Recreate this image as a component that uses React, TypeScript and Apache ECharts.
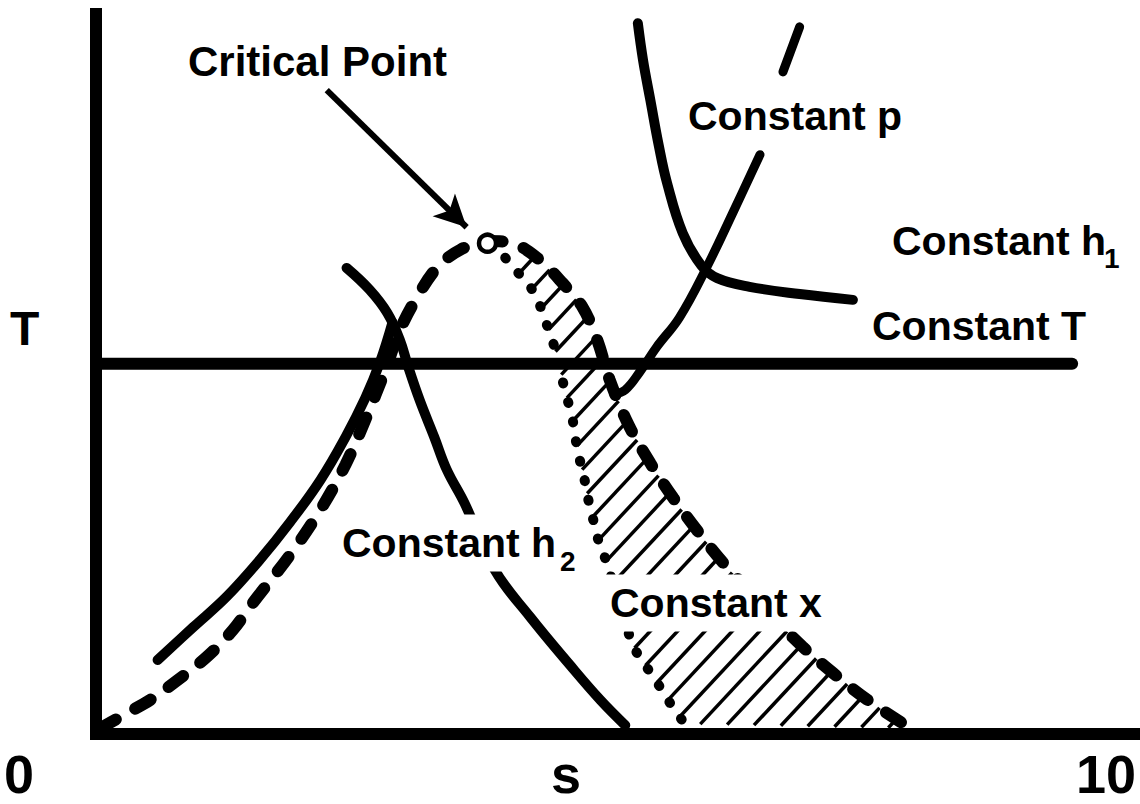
import React, { useEffect, useRef } from "react";
import * as echarts from "echarts";

// Saturation dome (dashed), left and right branches [s, T]
const domeLeft: number[][] = [
  [0.04, 0.08], [0.30, 0.29], [0.52, 0.47], [0.78, 0.74], [1.06, 1.06], [1.31, 1.43],
  [1.50, 1.80], [1.86, 2.47], [2.15, 3.09], [2.39, 3.71], [2.58, 4.33], [2.77, 5.01],
  [2.91, 5.56], [3.06, 5.98], [3.27, 6.43], [3.49, 6.67], [3.75, 6.79],
];
const domeRight: number[][] = [
  [3.75, 6.79], [3.99, 6.76], [4.25, 6.53], [4.47, 6.21], [4.66, 5.88], [4.80, 5.43],
  [4.92, 4.88], [5.10, 4.26], [5.31, 3.73], [5.53, 3.25], [5.76, 2.80], [6.00, 2.37],
  [6.26, 1.96], [6.51, 1.57], [6.77, 1.20], [7.06, 0.84], [7.39, 0.47], [7.80, 0.08],
];
// Constant quality line (dotted)
const qualityX: number[][] = [
  [3.92, 6.56], [4.04, 6.36], [4.16, 6.16], [4.25, 5.91], [4.31, 5.67], [4.37, 5.43],
  [4.43, 5.12], [4.49, 4.74], [4.56, 4.37], [4.59, 4.09], [4.63, 3.80], [4.68, 3.50],
  [4.72, 3.20], [4.77, 2.91], [4.82, 2.63], [4.89, 2.37], [4.97, 1.98], [5.06, 1.60],
  [5.14, 1.23], [5.24, 0.99], [5.34, 0.79], [5.43, 0.58], [5.53, 0.36], [5.64, 0.14],
];
// Constant pressure line pieces
const pressureLeft: number[][] = [
  [0.59, 1.02], [0.93, 1.47], [1.25, 1.89], [1.57, 2.40], [1.86, 2.92], [2.15, 3.50],
  [2.39, 4.09], [2.58, 4.63], [2.72, 5.12], [2.84, 5.67],
];
const pressureRight: number[][] = [
  [4.96, 4.68], [5.07, 4.74], [5.21, 4.99], [5.37, 5.33], [5.59, 5.74], [5.85, 6.43],
  [6.10, 7.18], [6.36, 7.98],
];
const pressureTop: number[][] = [[6.58, 9.12], [6.74, 9.74]];
// Constant enthalpy lines
const enthalpy1: number[][] = [
  [5.19, 9.79], [5.24, 9.28], [5.31, 8.73], [5.39, 8.11], [5.47, 7.59], [5.62, 6.90],
  [5.80, 6.45], [5.95, 6.28], [6.26, 6.16], [6.74, 6.06], [7.25, 5.98],
];
const enthalpy2: number[][] = [
  [2.40, 6.42], [2.62, 6.12], [2.79, 5.80], [2.91, 5.43], [2.99, 5.06], [3.10, 4.60],
  [3.24, 4.09], [3.36, 3.64], [3.53, 3.18], [3.82, 2.26], [4.16, 1.61], [4.54, 0.95],
  [4.83, 0.47], [5.07, 0.12],
];
// Constant temperature line
const temperatureLine: number[][] = [[0, 5.1], [9.35, 5.1]];
// Critical point and its pointer arrow
const criticalPoint: number[] = [3.75, 6.76];
const arrowFrom: number[] = [2.21, 8.87];
const arrowTo: number[] = [3.55, 6.98];

const LABEL_FONT = "bold 41px 'Liberation Sans', Arial, sans-serif";
const SUB_FONT = "bold 28px 'Liberation Sans', Arial, sans-serif";
const AXIS_FONT = "bold 54px 'Liberation Sans', Arial, sans-serif";

const solid = (data: number[][], width = 10) => ({
  type: "line",
  data,
  smooth: 0.4,
  symbol: "none",
  silent: true,
  lineStyle: { color: "#000", width, cap: "round", join: "round" },
  z: 3,
});

export default function App() {
  const ref = useRef<HTMLDivElement>(null);
  useEffect(() => {
    if (!ref.current) return;
    const chart = echarts.init(ref.current, undefined, { renderer: "svg" });

    const hatchBoundary = [...qualityX, ...domeRight.slice(1).reverse()];

    const renderHatch = (_params: any, api: any) => {
      const pts = hatchBoundary.map((p) => api.coord(p));
      const ang = (47 * Math.PI) / 180;
      const dx = Math.cos(ang), dy = -Math.sin(ang);
      const nx = -dy, ny = dx;
      const proj = pts.map((p: number[]) => p[0] * nx + p[1] * ny);
      const spacing = 20;
      const cmin = Math.min(...proj), cmax = Math.max(...proj);
      const children: any[] = [];
      const n = pts.length;
      for (let c = Math.ceil(cmin / spacing) * spacing + 6; c <= cmax; c += spacing) {
        const hits: number[][] = [];
        for (let i = 0; i < n; i++) {
          const j = (i + 1) % n;
          const pa = proj[i] - c, pb = proj[j] - c;
          if ((pa < 0) !== (pb < 0)) {
            const t = pa / (pa - pb);
            hits.push([
              pts[i][0] + t * (pts[j][0] - pts[i][0]),
              pts[i][1] + t * (pts[j][1] - pts[i][1]),
            ]);
          }
        }
        hits.sort((p, q) => p[0] * dx + p[1] * dy - (q[0] * dx + q[1] * dy));
        for (let k = 0; k + 1 < hits.length; k += 2) {
          children.push({
            type: "line",
            shape: { x1: hits[k][0], y1: hits[k][1], x2: hits[k + 1][0], y2: hits[k + 1][1] },
            style: { stroke: "#000", lineWidth: 3.5 },
          });
        }
      }
      return { type: "group", children };
    };

    const text = (t: string, x: number, y: number, font: string, align = "left", bg = false, z = 100) => ({
      type: "text",
      x,
      y,
      z,
      silent: true,
      style: {
        text: t,
        font,
        fill: "#000",
        align,
        verticalAlign: "middle",
        ...(bg ? { backgroundColor: "#fff", padding: [8, 6, 8, 6] } : {}),
      },
    });

    chart.setOption({
      animation: false,
      backgroundColor: "#fff",
      grid: { left: 96, right: 0, top: 8, bottom: 70 },
      xAxis: {
        type: "value",
        min: 0,
        max: 10,
        axisLine: { show: true, onZero: false, lineStyle: { color: "#000", width: 12, cap: "square" } },
        axisTick: { show: false },
        axisLabel: { show: false },
        splitLine: { show: false },
      },
      yAxis: {
        type: "value",
        min: 0,
        max: 10,
        axisLine: { show: true, onZero: false, lineStyle: { color: "#000", width: 12, cap: "butt" } },
        axisTick: { show: false },
        axisLabel: { show: false },
        splitLine: { show: false },
      },
      series: [
        {
          type: "custom",
          coordinateSystem: "cartesian2d",
          data: [[0, 0]],
          renderItem: renderHatch,
          silent: true,
          z: 1,
        },
        {
          type: "line",
          data: [...domeLeft, ...domeRight.slice(1)],
          smooth: 0.35,
          symbol: "none",
          silent: true,
          lineStyle: { color: "#000", width: 12, type: [18, 22], cap: "round" },
          z: 2,
        },
        {
          type: "line",
          data: qualityX,
          smooth: 0.35,
          symbol: "none",
          silent: true,
          lineStyle: { color: "#000", width: 10, type: [1, 19], cap: "round" },
          z: 2,
        },
        solid(temperatureLine, 12),
        solid(pressureLeft, 10),
        solid(pressureRight, 9),
        solid(pressureTop, 9),
        solid(enthalpy1, 10),
        solid(enthalpy2, 10),
        {
          type: "scatter",
          data: [criticalPoint],
          symbol: "circle",
          symbolSize: 17,
          silent: true,
          itemStyle: { color: "#fff", borderColor: "#000", borderWidth: 4.5, opacity: 1 },
          z: 5,
          markLine: {
            silent: true,
            symbol: ["none", "arrow"],
            symbolSize: [24, 32],
            label: { show: false },
            lineStyle: { color: "#000", width: 6, type: "solid", opacity: 1 },
            data: [[{ coord: arrowFrom }, { coord: arrowTo }]],
          },
        },
      ],
      graphic: [
        text("Critical Point", 188, 61, "bold 42px 'Liberation Sans', Arial, sans-serif"),
        text("Constant p", 688, 116, LABEL_FONT),
        text("Constant h", 892, 241, LABEL_FONT),
        text("1", 1104, 258, SUB_FONT),
        text("Constant T", 872, 326, LABEL_FONT),
        text("Constant h", 336, 543, LABEL_FONT, "left", true),
        text("2", 560, 561, SUB_FONT, "left", false, 101),
        text("Constant x", 604, 603, LABEL_FONT, "left", true),
        text("T", 10, 328, "bold 48px 'Liberation Sans', Arial, sans-serif"),
        text("0", 4, 774, AXIS_FONT),
        text("s", 566, 774, AXIS_FONT, "center"),
        text("10", 1136, 774, AXIS_FONT, "right"),
      ],
    });
    return () => chart.dispose();
  }, []);
  return (
    <div
      ref={ref}
      style={{ position: "absolute", left: 0, top: 0, width: 1140, height: 804 }}
    />
  );
}
